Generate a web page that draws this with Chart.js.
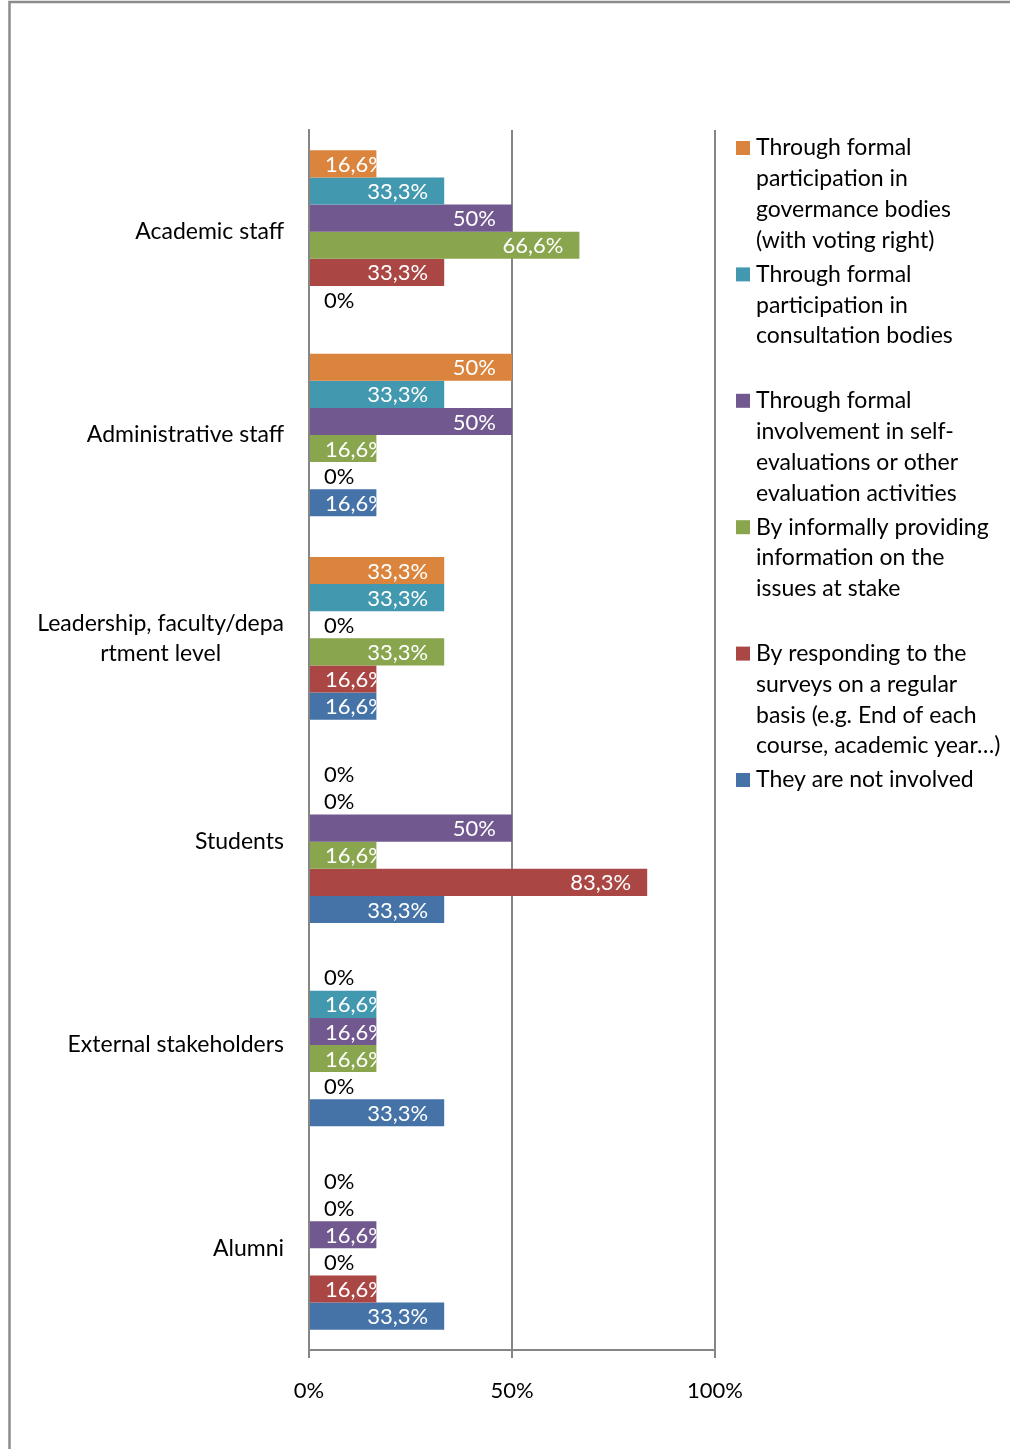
<!DOCTYPE html>
<html>
<head>
<meta charset="utf-8">
<title>Stakeholder involvement</title>
<script src="https://cdn.jsdelivr.net/npm/chart.js@4.4.1/dist/chart.umd.min.js"></script>
<style>
  html, body { margin: 0; padding: 0; background: #fff; }
  #wrap { position: relative; width: 1010px; height: 1449px; }
</style>
</head>
<body>
<div id="wrap"><canvas id="chart"></canvas></div>
<script>
// Stakeholder groups (y axis)
const categories = [
  ["Academic staff"],
  ["Administrative staff"],
  ["Leadership, faculty/depa", "rtment level"],
  ["Students"],
  ["External stakeholders"],
  ["Alumni"]
]

// Legend texts, already broken into lines
const seriesNames = [
  ["Through formal", "participation in", "govermance bodies", "(with voting right)"],
  ["Through formal", "participation in", "consultation bodies"],
  ["Through formal", "involvement in self-", "evaluations or other", "evaluation activities"],
  ["By informally providing", "information on the", "issues at stake"],
  ["By responding to the", "surveys on a regular", "basis (e.g. End of each", "course, academic year…)"],
  ["They are not involved"]
]

const seriesColors = ["#DB843D", "#4198AF", "#71588F", "#89A54E", "#AA4643", "#4572A7"]

// Percentages per series, one value per stakeholder group
const governance = [16.6, 50, 33.3, 0, 0, 0]
const consultation = [33.3, 33.3, 33.3, 0, 16.6, 0]
const selfEvaluation = [50, 50, 0, 50, 16.6, 16.6]
const informal = [66.6, 16.6, 33.3, 16.6, 16.6, 0]
const surveys = [33.3, 0, 16.6, 83.3, 0, 16.6]
const notInvolved = [0, 16.6, 16.6, 33.3, 33.3, 33.3]

const xTicks = [0, 50, 100]

const FONT = "Lato, 'Open Sans', sans-serif"
const TEXT_SIZE = 23   // category and legend text
const NUM_SIZE = 22    // percentages
const AXIS_GRAY = "#868686"

const seriesValues = [governance, consultation, selfEvaluation, informal, surveys, notInvolved]

const fmtPct = v => (Number.isInteger(v) ? String(v) : String(v).replace(".", ",")) + "%"

// Outer frame of the chart object (left and top edges)
const framePlugin = {
  id: "frame",
  beforeDraw(chart) {
    const ctx = chart.ctx
    ctx.save()
    ctx.strokeStyle = "#8c8c8c"
    ctx.lineWidth = 2.5
    ctx.beginPath()
    ctx.moveTo(9.5, chart.height)
    ctx.lineTo(9.5, 2)
    ctx.lineTo(chart.width, 2)
    ctx.stroke()
    ctx.restore()
  }
}

// Category labels: block right-aligned next to the axis, lines centred inside the block
const categoryLabels = {
  id: "categoryLabels",
  afterDraw(chart) {
    const ctx = chart.ctx
    const y = chart.scales.y
    const right = chart.chartArea.left - 25
    const lh = 30
    ctx.save()
    ctx.font = `${TEXT_SIZE}px ${FONT}`
    ctx.fillStyle = "#000"
    ctx.textBaseline = "middle"
    ctx.textAlign = "center"
    categories.forEach((lines, i) => {
      const cy = y.getPixelForValue(i)
      const w = Math.max(...lines.map(l => ctx.measureText(l).width))
      const cx = right - w / 2
      const top = cy - (lines.length - 1) * lh / 2
      lines.forEach((l, k) => ctx.fillText(l, cx, top + k * lh))
    })
    ctx.restore()
  }
}

// Value labels inside the bar end, clipped to the bar; zero values in black
const valueLabels = {
  id: "valueLabels",
  afterDatasetsDraw(chart) {
    const ctx = chart.ctx
    ctx.save()
    ctx.font = `${NUM_SIZE}px ${FONT}`
    ctx.textBaseline = "middle"
    ctx.textAlign = "left"
    chart.data.datasets.forEach((ds, di) => {
      const meta = chart.getDatasetMeta(di)
      meta.data.forEach((bar, i) => {
        const v = ds.data[i]
        const text = fmtPct(v)
        const w = ctx.measureText(text).width
        const { x, y, base, height } = bar.getProps(["x", "y", "base", "height"], true)
        const tx = Math.max(x - 16 - w, base + 15)
        if (v > 0) {
          ctx.save()
          ctx.beginPath()
          ctx.rect(base, y - height / 2, x - base, height)
          ctx.clip()
          ctx.fillStyle = "#fff"
          ctx.fillText(text, tx, y + 1)
          ctx.restore()
        } else {
          ctx.fillStyle = "#000"
          ctx.fillText(text, tx, y + 1)
        }
      })
    })
    ctx.restore()
  }
}

// Legend on the right, one evenly spaced slot per series
const sideLegend = {
  id: "sideLegend",
  afterDraw(chart) {
    const ctx = chart.ctx
    const x0 = 736
    const y0 = 148
    const slot = 126.4
    const lh = 30.8
    ctx.save()
    ctx.font = `${TEXT_SIZE}px ${FONT}`
    ctx.textBaseline = "middle"
    ctx.textAlign = "left"
    seriesNames.forEach((lines, i) => {
      const top = y0 + i * slot
      ctx.fillStyle = seriesColors[i]
      ctx.fillRect(x0, top - 7, 14, 14)
      ctx.fillStyle = "#000"
      lines.forEach((l, k) => ctx.fillText(l, x0 + 20, top + k * lh))
    })
    ctx.restore()
  }
}

new Chart(document.getElementById("chart"), {
  type: "bar",
  data: {
    labels: categories.map(c => c.join(" ")),
    datasets: seriesValues.map((vals, i) => ({
      label: seriesNames[i].join(" "),
      data: vals,
      backgroundColor: seriesColors[i],
      borderWidth: 0,
      categoryPercentage: 0.8,
      barPercentage: 1.0
    }))
  },
  options: {
    indexAxis: "y",
    responsive: true,
    maintainAspectRatio: false,
    animation: false,
    layout: { padding: { top: 130, right: 295, left: 0, bottom: 0 } },
    plugins: {
      legend: { display: false },
      tooltip: { enabled: false }
    },
    scales: {
      x: {
        min: 0,
        max: 100,
        afterBuildTicks: scale => { scale.ticks = xTicks.map(v => ({ value: v })) },
        afterFit: scale => { scale.height = 99 },
        grid: { color: AXIS_GRAY, lineWidth: 2, drawTicks: true, tickLength: 8 },
        border: { display: true, color: AXIS_GRAY, width: 2 },
        ticks: {
          padding: 20,
          color: "#000",
          font: { family: FONT, size: NUM_SIZE },
          callback: v => v + "%"
        }
      },
      y: {
        afterFit: scale => { scale.width = 309 },
        grid: { display: false },
        border: { display: true, color: AXIS_GRAY, width: 2 },
        ticks: { display: false }
      }
    }
  },
  plugins: [framePlugin, valueLabels, categoryLabels, sideLegend]
})
</script>
</body>
</html>
